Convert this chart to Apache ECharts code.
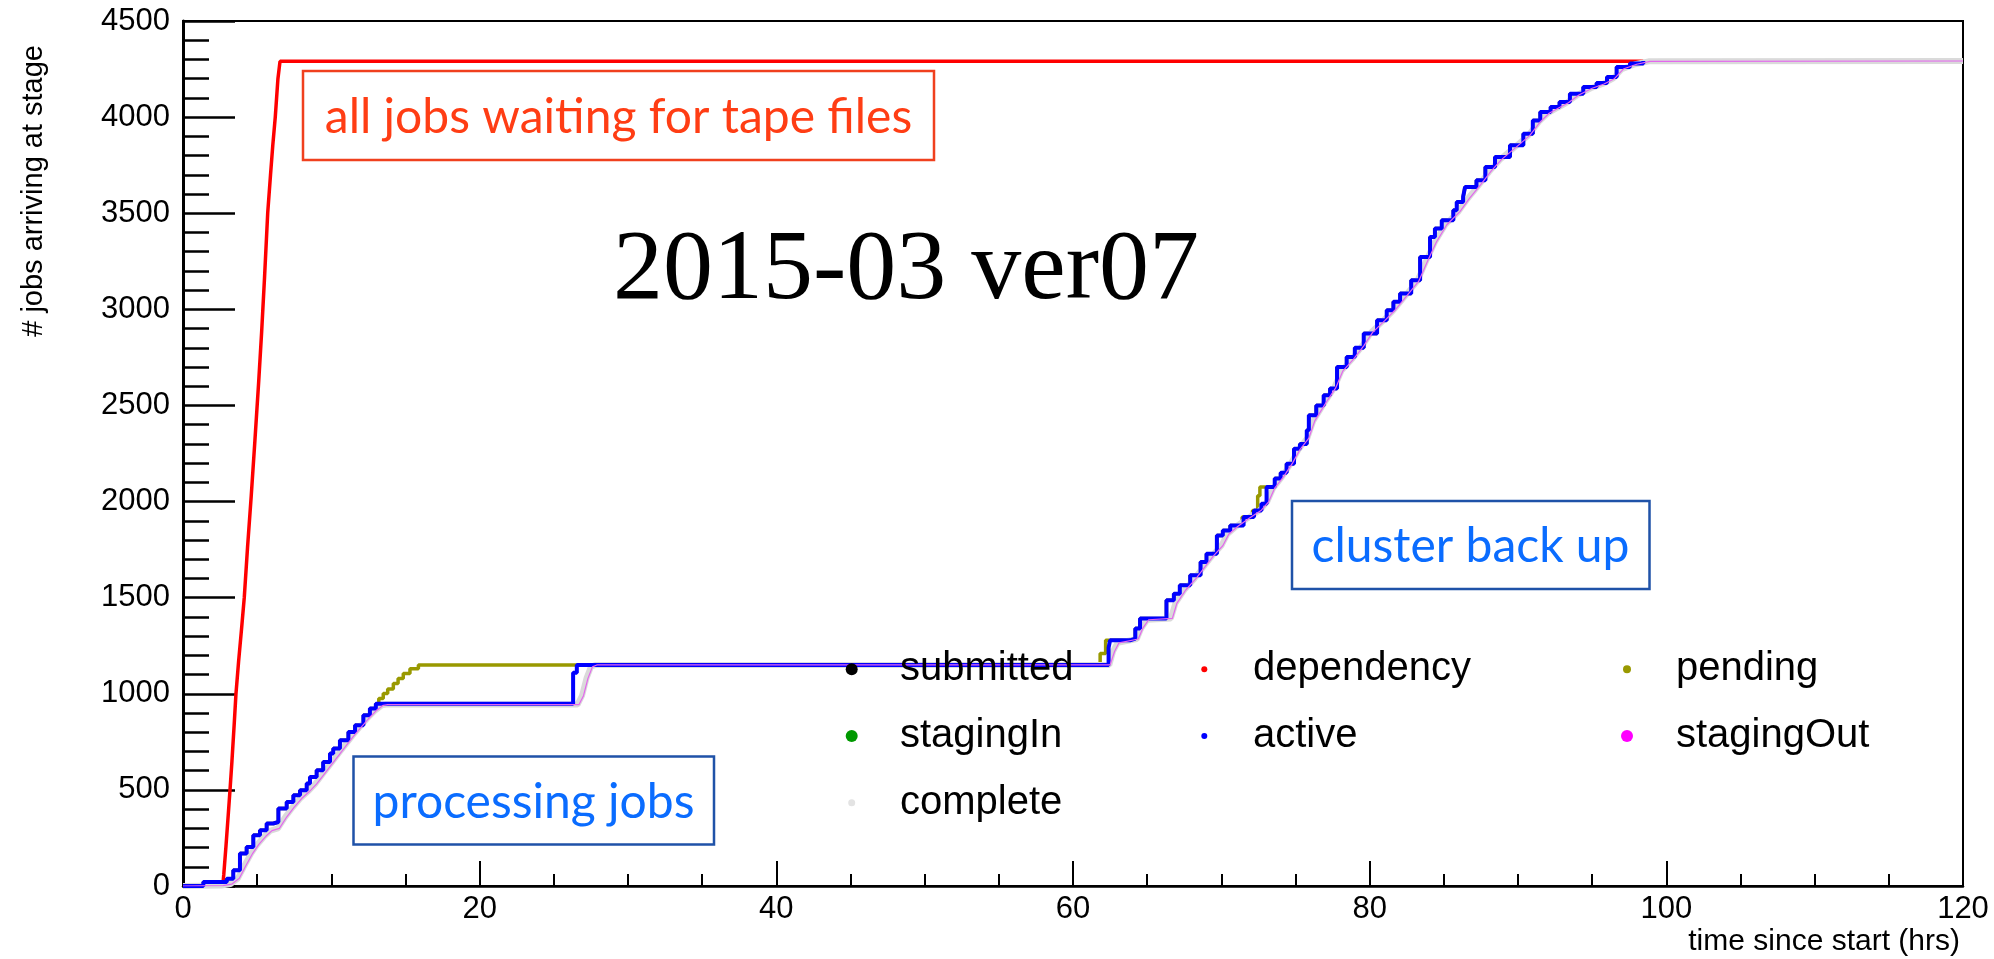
<!DOCTYPE html>
<html>
<head>
<meta charset="utf-8">
<title>2015-03 ver07</title>
<script src="https://cdn.jsdelivr.net/npm/echarts@6/dist/echarts.min.js"></script>
<style>
    html, body { margin: 0; padding: 0; background: #fff; }
    #chart { width: 1994px; height: 959px; }
</style>
</head>
<body>
<div id="chart"></div>
<script>
    // tick labels
    var xTicks = [0, 20, 40, 60, 80, 100, 120];
    var yTicks = [0, 500, 1000, 1500, 2000, 2500, 3000, 3500, 4000, 4500];

    // [hours since start, number of jobs]
    var dependencyData = [[0,0],[2.68,0],[2.75,60],[2.9,210],[3.05,370],[3.17,500],[3.3,650],[3.45,840],[3.57,1000],
        [3.75,1170],[3.95,1340],[4.13,1500],[4.35,1760],[4.6,2030],[4.85,2320],[5.1,2620],[5.3,2880],[5.5,3170],
        [5.71,3500],[5.9,3700],[6.05,3850],[6.22,4000],[6.4,4200],[6.54,4290],[98.45,4290]];

    var pendingData = [[0,0],[1.37,21],[2.95,38],[3.39,82],[3.84,169],[4.29,203],[4.74,264],[5.19,290],[5.64,325],
        [6.09,333],[6.43,403],[6.99,437],[7.44,472],[7.89,498],[8.34,533],[8.56,567],[9.01,602],[9.45,645],[9.91,689],
        [10.13,715],[10.58,758],[11.15,801],[11.6,836],[12.16,888],[12.6,923],[13.0,948],[13.2,975],[13.5,1001],
        [13.8,1025],[14.18,1053],[14.5,1080],[14.85,1105],[15.3,1130],[15.87,1150],[61.83,1210],[62.2,1278],
        [63.84,1287],[64.2,1340],[64.52,1391],[66.3,1486],[66.8,1520],[67.2,1564],[67.9,1616],[68.6,1686],[69.0,1729],
        [69.7,1824],[70.1,1850],[70.6,1876],[71.4,1920],[72.1,1954],[72.45,2030],[72.6,2076],[73.6,2120],[74.0,2150],
        [74.4,2197],[74.9,2275],[75.3,2300],[75.76,2371],[75.9,2449],[76.4,2500],[76.9,2553],[77.33,2588],[77.8,2700],
        [78.45,2752],[79.0,2800],[79.6,2874],[80.5,2943],[81.15,2995],[81.6,3040],[82.05,3082],[82.8,3151],[83.4,3272],
        [84.07,3376],[84.4,3420],[84.86,3463],[85.64,3515],[85.87,3559],[86.3,3585],[86.43,3636],[87.2,3671],
        [87.8,3741],[88.45,3793],[89.46,3853],[90.36,3914],[91.0,3983],[91.5,4027],[92.2,4053],[92.8,4079],
        [93.5,4122],[94.4,4157],[95.3,4178],[96.0,4209],[96.65,4261],[97.55,4279],[98.45,4292]];

    var activeData = [[0,0],[1.37,21],[2.95,38],[3.39,82],[3.84,169],[4.29,203],[4.74,264],[5.19,290],[5.64,325],
        [6.09,333],[6.43,403],[6.99,437],[7.44,472],[7.89,498],[8.34,533],[8.56,567],[9.01,602],[9.45,645],[9.91,689],
        [10.13,715],[10.58,758],[11.15,801],[11.6,836],[12.16,888],[12.6,923],[13.0,948],[26.3,1110],[26.55,1150],
        [62.4,1240],[62.5,1278],[63.84,1287],[64.2,1340],[64.52,1391],[66.3,1486],[66.8,1520],[67.2,1564],[67.9,1616],
        [68.6,1686],[69.0,1729],[69.7,1824],[70.1,1850],[70.6,1876],[71.5,1920],[72.2,1954],[72.7,1989],[73.05,2076],
        [73.6,2120],[74.0,2150],[74.4,2197],[74.9,2275],[75.3,2300],[75.76,2371],[75.9,2449],[76.4,2500],[76.9,2553],
        [77.33,2588],[77.8,2700],[78.45,2752],[79.0,2800],[79.6,2874],[80.5,2943],[81.15,2995],[81.6,3040],[82.05,3082],
        [82.8,3151],[83.4,3272],[84.07,3376],[84.4,3420],[84.86,3463],[85.64,3515],[85.87,3559],[86.3,3585],[86.43,3636],
        [87.2,3671],[87.8,3741],[88.45,3793],[89.46,3853],[90.36,3914],[91.0,3983],[91.5,4027],[92.2,4053],[92.8,4079],
        [93.5,4122],[94.4,4157],[95.3,4178],[96.0,4209],[96.65,4261],[97.55,4279],[98.45,4292]];

    var completeData = [[0,0],[2.6,2],[3.2,10],[3.7,40],[4.1,100],[4.6,170],[5.0,215],[5.5,260],[5.9,288],[6.4,300],
        [6.9,360],[7.4,410],[7.9,455],[8.4,490],[8.9,530],[9.4,580],[9.9,630],[10.4,680],[10.9,730],[11.4,780],
        [11.9,825],[12.4,870],[12.9,910],[13.4,940],[13.7,944],[26.6,944],[26.9,990],[27.2,1080],[27.5,1140],
        [27.8,1150],[62.45,1150],[62.7,1220],[63.0,1265],[64.3,1285],[64.6,1340],[65.0,1385],[66.6,1392],[66.9,1470],
        [67.5,1540],[68.2,1600],[68.9,1670],[69.4,1720],[70.0,1770],[70.4,1830],[71.0,1870],[71.8,1915],[72.6,1955],
        [73.1,2000],[73.5,2070],[74.1,2130],[74.7,2200],[75.2,2270],[75.8,2330],[76.2,2420],[77.0,2520],[77.6,2590],
        [78.1,2680],[78.8,2740],[79.5,2810],[80.1,2880],[80.9,2940],[81.6,2995],[82.4,3070],[83.2,3145],[83.8,3250],
        [84.4,3350],[85.1,3440],[86.0,3510],[86.6,3575],[87.4,3650],[88.1,3720],[88.8,3780],[89.8,3845],[90.7,3905],
        [91.4,3975],[92.0,4020],[92.7,4050],[93.3,4075],[94.0,4115],[94.9,4150],[95.7,4172],[96.4,4200],[97.0,4250],
        [97.9,4275],[98.8,4290],[120,4292]];

    var stagingOutData = [[0,0],[2.7,2],[3.3,10],[3.8,40],[4.2,100],[4.7,170],[5.1,215],[5.6,260],[6.0,288],[6.5,300],
        [7.0,360],[7.5,410],[8.0,455],[8.5,490],[9.0,530],[9.5,580],[10.0,630],[10.5,680],[11.0,730],[11.5,780],
        [12.0,825],[12.5,870],[13.0,910],[13.5,940],[13.8,944],[26.7,944],[27.0,990],[27.3,1080],[27.6,1140],
        [27.9,1150],[62.5,1150],[62.8,1220],[63.1,1265],[64.4,1285],[64.7,1340],[65.1,1385],[66.7,1392],[67.0,1470],
        [67.6,1540],[68.3,1600],[69.0,1670],[69.5,1720],[70.1,1770],[70.5,1830],[71.1,1870],[71.9,1915],[72.7,1955],
        [73.2,2000],[73.6,2070],[74.2,2130],[74.8,2200],[75.3,2270],[75.9,2330],[76.3,2420],[77.1,2520],[77.7,2590],
        [78.2,2680],[78.9,2740],[79.6,2810],[80.2,2880],[81.0,2940],[81.7,2995],[82.5,3070],[83.3,3145],[83.9,3250],
        [84.5,3350],[85.2,3440],[86.1,3510],[86.7,3575],[87.5,3650],[88.2,3720],[88.9,3780],[89.9,3845],[90.8,3905],
        [91.5,3975],[92.1,4020],[92.8,4050],[93.4,4075],[94.1,4115],[95.0,4150],[95.8,4172],[96.5,4200],[97.1,4250],
        [98.0,4275],[98.9,4290],[120,4292]];

    var submittedData = [];
    var stagingInData = [];

    var chart = echarts.init(document.getElementById('chart'));

    var sans = 'Liberation Sans';

    // one legend box per entry, so each marker can have its own size
    function legendEntry(name, color, size, dotX, rowY, textX) {
        var left = dotX - size / 2;
        return {
            data: [{name: name, itemStyle: {color: color}}],
            left: left,
            top: rowY - 20,
            padding: 0,
            icon: 'circle',
            itemWidth: size,
            itemHeight: size,
            selectedMode: false,
            textStyle: {
                fontSize: 40,
                fontFamily: sans,
                color: '#000',
                padding: [0, 0, 0, textX - left - size - 5]
            }
        };
    }

    function lineSeries(name, data, color, width, step) {
        return {
            name: name,
            type: 'line',
            data: data,
            step: step || false,
            symbol: 'none',
            itemStyle: {color: color},
            lineStyle: {color: color, width: width},
            emphasis: {disabled: true}
        };
    }

    var option = {
        animation: false,
        backgroundColor: '#fff',
        grid: {
            left: 183, right: 31, top: 21, bottom: 73,
            show: true, borderColor: '#000', borderWidth: 2,
            outerBoundsMode: 'none'
        },
        xAxis: {
            type: 'value',
            min: xTicks[0],
            max: xTicks[xTicks.length - 1],
            interval: 20,
            axisLine: {lineStyle: {color: '#000', width: 2.5}},
            axisTick: {inside: true, length: 25, lineStyle: {color: '#000', width: 2}},
            minorTick: {show: true, splitNumber: 4, length: 12, lineStyle: {color: '#000', width: 2}},
            splitLine: {show: false},
            axisLabel: {
                color: '#000', fontSize: 31, fontFamily: sans, margin: 8,
                showMinLabel: true, showMaxLabel: true,
                formatter: function (v) { return String(v); }
            }
        },
        yAxis: {
            type: 'value',
            min: yTicks[0],
            max: yTicks[yTicks.length - 1],
            interval: 500,
            axisLine: {lineStyle: {color: '#000', width: 3}},
            axisTick: {inside: true, length: 52, lineStyle: {color: '#000', width: 2.5}},
            minorTick: {show: true, splitNumber: 5, length: 26, lineStyle: {color: '#000', width: 2.5}},
            splitLine: {show: false},
            axisLabel: {
                color: '#000', fontSize: 31, fontFamily: sans, margin: 13,
                showMinLabel: true, showMaxLabel: true,
                formatter: function (v) { return String(v); }
            }
        },
        legend: [
            legendEntry('submitted', '#000000', 12, 851.7, 669.3, 900),
            legendEntry('dependency', '#ff0000', 6, 1204.3, 669.3, 1253),
            legendEntry('pending', '#999900', 8, 1627, 669.3, 1676),
            legendEntry('stagingIn', '#009900', 12, 851.7, 736, 900),
            legendEntry('active', '#0000ff', 6, 1204.3, 736, 1253),
            legendEntry('stagingOut', '#ff00ff', 12, 1627, 736, 1676),
            legendEntry('complete', '#e3e3e3', 7, 851.7, 802.7, 900)
        ],
        series: [
            lineSeries('submitted', submittedData, '#000000', 2),
            lineSeries('dependency', dependencyData, '#ff0000', 3.5),
            lineSeries('pending', pendingData, '#999900', 3.5, 'end'),
            lineSeries('stagingIn', stagingInData, '#009900', 2),
            lineSeries('complete', completeData, '#dadada', 6),
            lineSeries('active', activeData, '#0000ff', 4, 'end'),
            lineSeries('stagingOut', stagingOutData, '#e466ee', 1.2)
        ],
        graphic: [
            {
                type: 'text', x: 34, y: 45, rotation: Math.PI / 2,
                style: {text: '# jobs arriving at stage', font: '29px "Liberation Sans"', fill: '#000',
                    align: 'right', verticalAlign: 'middle'}
            },
            {
                type: 'text', x: 1960, y: 942,
                style: {text: 'time since start (hrs)', font: '30px "Liberation Sans"', fill: '#000',
                    align: 'right', verticalAlign: 'middle'}
            },
            {
                type: 'text', x: 906, y: 272,
                style: {text: '2015-03 ver07', font: '100px "Liberation Serif"', fill: '#000',
                    align: 'center', verticalAlign: 'middle'}
            },
            // annotation boxes
            {
                type: 'rect', shape: {x: 303, y: 71, width: 631, height: 89},
                style: {fill: '#fff', stroke: '#f0401e', lineWidth: 2.5}
            },
            {
                type: 'text', x: 618.5, y: 118,
                style: {text: 'all jobs waiting for tape files', font: '48px Lato', fill: '#ff3d14',
                    align: 'center', verticalAlign: 'middle'}
            },
            {
                type: 'rect', shape: {x: 353.5, y: 756.5, width: 360.5, height: 88},
                style: {fill: '#fff', stroke: '#1f52a8', lineWidth: 2.5}
            },
            {
                type: 'text', x: 533.5, y: 803,
                style: {text: 'processing jobs', font: '48px Lato', fill: '#0a6cff',
                    align: 'center', verticalAlign: 'middle'}
            },
            {
                type: 'rect', shape: {x: 1292, y: 501, width: 357.5, height: 88},
                style: {fill: '#fff', stroke: '#1f52a8', lineWidth: 2.5}
            },
            {
                type: 'text', x: 1470.5, y: 547,
                style: {text: 'cluster back up', font: '48px Lato', fill: '#0a6cff',
                    align: 'center', verticalAlign: 'middle'}
            }
        ]
    };

    chart.setOption(option);

    window.addEventListener('resize', function () {
        chart.resize();
    });
</script>
</body>
</html>
